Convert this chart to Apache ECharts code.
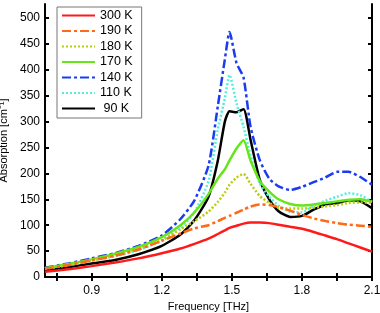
<!DOCTYPE html>
<html><head><meta charset="utf-8">
<script src="https://cdn.jsdelivr.net/npm/echarts@6/dist/echarts.min.js"></script>
<style>html,body{margin:0;padding:0;background:#fff}#c{width:380px;height:313px}</style>
</head><body><div id="c"></div>
<script>
const freq = [0.7,0.8,0.9,1.0,1.1,1.2,1.28,1.34,1.4,1.44,1.47,1.49,1.52,1.55,1.58,1.62,1.66,1.7,1.75,1.8,1.85,1.9,1.95,2.0,2.05,2.1];
const k300 = [10,15,21,28,36,46,55,64,74,83,90,95,99,103,105,105,104,101,97,93,87,80,73,65,57,49];
const k190 = [16,23,32,41,53,70,84,94,100,108,114,118,124,130,136,140,139,135,128,120,113,108,104,101,99,97];
const k180 = [16,23,32,42,54,71,92,108,126,145,163,178,192,199,180,156,143,134,132,132,134,136,139,143,144,143];
const k170 = [17,25,34,45,58,77,100,125,160,190,208,225,248,264,225,185,165,150,141,138,140,143,146,149,150,145];
const k140 = [18,26,36,46,60,80,112,148,215,330,420,473,413,385,290,225,190,175,168,174,183,192,203,203,193,178];
const k110 = [17,23,32,40,52,70,95,125,185,285,345,390,335,290,235,180,155,138,126,125,137,147,155,162,158,145];
const k90  = [13,19,26,33,44,60,82,110,155,225,300,320,318,324,265,187,150,127,116,118,130,140,143,148,146,133];
const names = ['300 K','190 K','180 K','170 K','140 K','110 K',' 90 K'];
const xLabels = [0.9,1.2,1.5,1.8,2.1];
const xTicks = [0.75,0.9,1.05,1.2,1.35,1.5,1.65,1.8,1.95,2.1];
const yTicks = [0,50,100,150,200,250,300,350,400,450,500];

const styles = [
  {color:'#ff1a1a', type:'solid'},
  {color:'#ff6a1a', type:[9,3,3,3]},
  {color:'#b8cc10', type:[2,2]},
  {color:'#66e619', type:'solid'},
  {color:'#1a3cf0', type:[9,3,3,3]},
  {color:'#55eedd', type:[2,2]},
  {color:'#000000', type:'solid'}
];
const vals = [k300,k190,k180,k170,k140,k110,k90];
const series = vals.map((v,i)=>({
  name:names[i], type:'line', xAxisIndex:0, yAxisIndex:0,
  data: freq.map((f,j)=>[f,v[j]]), symbol:'none', smooth:0.2,
  lineStyle:{color:styles[i].color, width:2.5, type:styles[i].type},
  itemStyle:{color:styles[i].color}, z: 10-i
}));
const font = 'Liberation Sans';
const chart = echarts.init(document.getElementById('c'));
const axLine = {show:true, lineStyle:{color:'#000', width:2}};
chart.setOption({
  animation:false,
  grid:{left:45,right:8,top:4,bottom:36, containLabel:false, outerBoundsMode:'none'},
  legend:{orient:'vertical', left:57, top:7, backgroundColor:'#fff', borderColor:'#777', borderWidth:1,
    padding:[2,9,3,4], itemWidth:33, itemHeight:12, itemGap:2.5,
    itemStyle:{opacity:0},
    textStyle:{fontFamily:font, fontSize:12.5, color:'#000'}, data:names},
  xAxis:[{type:'value', min:0.7, max:2.1, name:'Frequency [THz]', nameLocation:'middle', nameGap:23,
    nameTextStyle:{fontFamily:font, fontSize:11, color:'#000'},
    axisLine:axLine, splitLine:{show:false},
    axisTick:{inside:true, length:4, customValues:xTicks, lineStyle:{color:'#000', width:2}},
    axisLabel:{customValues:xLabels, formatter:v=>v.toFixed(1), fontFamily:font, fontSize:12, color:'#000', margin:8}},
   {type:'value', position:'top', min:0.7, max:2.1, axisLine:axLine, splitLine:{show:false},
    axisTick:{inside:true, length:4, customValues:xTicks, lineStyle:{color:'#000', width:2}},
    axisLabel:{show:false}}],
  yAxis:[{type:'value', min:0, max:527, name:'Absorption [cm⁻¹]', nameLocation:'middle', nameGap:30,
    nameTextStyle:{fontFamily:font, fontSize:11, color:'#000'},
    axisLine:axLine, splitLine:{show:false},
    axisTick:{inside:true, length:4, customValues:yTicks, lineStyle:{color:'#000', width:2}},
    axisLabel:{customValues:yTicks, fontFamily:font, fontSize:12, color:'#000', margin:5}},
   {type:'value', position:'right', min:0, max:527, axisLine:axLine, splitLine:{show:false},
    axisTick:{inside:true, length:4, customValues:yTicks, lineStyle:{color:'#000', width:2}},
    axisLabel:{show:false}}],
  series:series
});
</script></body></html>
